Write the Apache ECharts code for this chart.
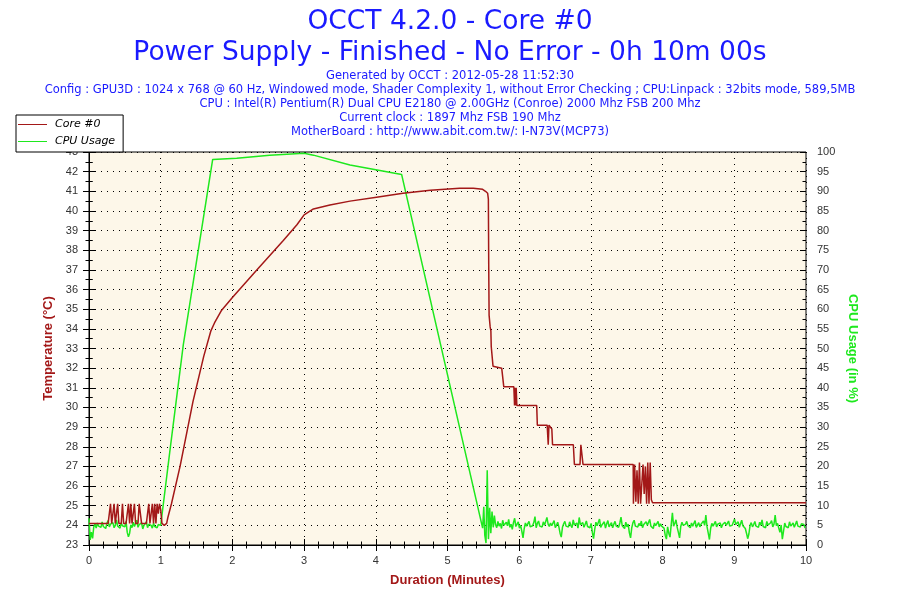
<!DOCTYPE html>
<html>
<head>
<meta charset="utf-8">
<script src="https://cdn.jsdelivr.net/npm/echarts@6/dist/echarts.min.js"></script>
<style>html,body{margin:0;padding:0;background:#fff}#c{width:900px;height:600px}</style>
</head>
<body>
<div id="c"></div>
<script>
// ---- text ----
const titleLines = ['OCCT 4.2.0 - Core #0', 'Power Supply - Finished - No Error - 0h 10m 00s'];
const infoLines = [
  'Generated by OCCT : 2012-05-28 11:52:30',
  'Config : GPU3D : 1024 x 768 @ 60 Hz, Windowed mode, Shader Complexity 1, without Error Checking ; CPU:Linpack : 32bits mode, 589,5MB',
  'CPU : Intel(R) Pentium(R) Dual CPU E2180 @ 2.00GHz (Conroe) 2000 Mhz FSB 200 Mhz',
  'Current clock : 1897 Mhz FSB 190 Mhz',
  'MotherBoard : http://www.abit.com.tw/: I-N73V(MCP73)'
];
const seriesNames = ['Core #0', 'CPU Usage'];
const xName = 'Duration (Minutes)';
const yLeftName = 'Temperature (°C)';
const yRightName = 'CPU Usage (in %)';

// ---- data (time in minutes) ----
const SAMPLE = 1 / 60; // one sample per second

// Core #0 temperature, first minute, one value per second
const tempStart = [
  24.1,24.1,24.1,24.1,24.1,24.1,24.1,24.1,24.1,24.1,
  24.1,24.1,24.1,24.1,24.1,24.1,24.1,24.1,25.1,24.1,
  24.1,25.1,24.1,24.1,25.1,24.1,24.1,24.1,25.1,24.1,
  24.1,24.1,24.1,25.1,24.1,25.1,24.1,24.1,25.1,24.1,
  24.1,24.1,25.1,25.1,24.1,24.1,24.1,24.1,24.1,24.1,
  25.1,24.1,24.1,25.1,24.1,25.1,24.1,25.1,24.6,25.1,
  24.8
];
// Core #0 temperature after the first minute: [minutes, °C]
const tempRest = [
  [1.017,24.1],[1.033,24.0],[1.05,24.0],[1.067,24.0],[1.083,24.1],[1.10,24.4],
  [1.15,25.1],[1.27,27.0],[1.45,30.3],[1.60,32.6],[1.70,33.9],[1.75,34.3],
  [1.85,34.95],[2.0,35.6],[2.34,37.0],[2.71,38.5],[2.9,39.3],[3.0,39.8],
  [3.13,40.1],[3.36,40.3],[3.64,40.5],[4.01,40.7],[4.38,40.9],[4.76,41.05],
  [5.17,41.15],[5.36,41.15],[5.37,41.1],[5.49,41.1],[5.53,41.0],[5.56,40.9],
  [5.57,40.6],[5.575,37.2],[5.58,34.7],[5.595,34.1],[5.605,33.9],[5.61,33.1],
  [5.628,33.0],[5.635,32.1],[5.652,32.0],[5.756,32.0],[5.77,32.1],[5.785,31.05],
  [5.925,31.05],[5.935,30.1],[5.942,31.0],[5.95,30.1],[5.958,31.0],[5.967,30.1],
  [6.244,30.1],[6.253,29.1],[6.39,29.1],[6.405,28.1],[6.415,29.1],[6.44,29.1],
  [6.455,28.9],[6.465,28.1],[6.755,28.1],[6.77,27.1],[6.848,27.1],[6.86,28.1],
  [6.875,28.1],[6.89,27.1],[7.59,27.1],
  [7.593,25.1],[7.61,27.1],[7.627,25.2],[7.643,26.8],[7.66,25.1],[7.677,27.2],
  [7.693,25.1],[7.71,25.1],[7.727,27.1],[7.743,25.6],[7.76,27.0],[7.777,25.1],
  [7.793,27.2],[7.81,25.1],[7.827,27.2],[7.843,25.3],[7.86,25.15],[10,25.15]
];

// CPU usage, first minute, one value per second (%)
const cpuStart = [
  6.8,1.3,3.3,1.7,4.6,5.4,4.3,5.6,4.8,5.2,
  4.5,5.9,4.7,5.1,4.2,5.5,6.2,4.6,5.3,4.9,
  5.7,4.4,5.0,6.4,4.8,5.2,4.3,5.6,4.9,5.4,
  4.6,6.0,3.2,2.1,3.0,5.1,4.4,5.8,4.7,5.0,
  6.3,4.5,5.2,4.8,5.6,4.1,5.0,4.6,5.9,4.4,
  5.3,4.8,5.0,4.3,5.5,4.7,5.1,4.4,5.2,4.8,
  5.0
];
// CPU usage during the load phase: [minutes, %]
const cpuLoad = [
  [1.13,24.2],[1.315,50.9],[1.725,98.1],[2.06,98.4],[2.52,99.2],[3.0,99.7],
  [3.13,99.2],[3.64,96.7],[4.36,94.3],[5.49,4.3],
  [5.506,9.7],[5.52,2.5],[5.537,0.5],[5.554,19.0],[5.571,1.5],[5.588,9.5],
  [5.604,3.0],[5.621,8.5],[5.638,4.5],[5.654,7.5]
];
// CPU usage after the load, one value per second from 5.67 min (%)
const cpuTailStart = 5.67;
const cpuTail = [
  5.2,4.4,6.0,4.8,5.5,4.2,6.3,5.0,4.6,5.8,4.9,6.5,4.5,5.3,4.0,5.7,6.8,4.7,5.1,5.9,
  4.3,5.0,3.5,1.8,4.2,5.6,4.8,5.3,6.0,4.6,5.1,4.9,5.7,7.2,4.4,5.5,6.1,4.8,5.2,4.6,
  5.9,5.0,4.5,7.0,5.3,4.7,5.6,4.9,5.2,6.2,4.4,5.0,5.8,4.6,3.0,2.0,4.5,5.4,6.0,4.8,
  5.2,4.6,5.9,5.0,4.4,6.4,5.1,4.8,5.6,4.3,7.0,5.2,4.9,5.7,4.5,5.3,6.1,4.7,5.0,4.4,
  5.5,3.2,1.6,4.0,5.8,4.9,5.2,6.6,4.5,5.1,4.8,5.9,4.3,5.4,6.2,4.6,5.0,5.7,4.4,5.3,
  6.0,4.8,5.2,4.5,5.6,7.1,4.9,5.0,4.2,5.8,4.6,5.3,3.1,1.8,4.4,5.7,6.3,4.8,5.1,4.6,
  5.5,4.9,6.1,4.4,5.2,4.7,5.9,5.0,4.5,6.5,4.8,5.3,4.2,5.6,4.9,5.1,6.0,4.6,5.4,4.8,
  5.0,4.3,2.5,1.5,4.6,3.0,2.0,5.2,8.2,4.8,5.5,6.4,4.5,3.2,1.8,4.7,5.8,5.0,4.6,5.3,
  6.0,4.9,5.2,4.4,5.6,4.8,5.1,6.2,4.5,5.0,5.7,4.6,5.3,4.9,6.1,5.0,7.6,4.6,3.0,1.4,
  4.2,5.5,4.8,5.1,6.0,4.6,5.3,4.9,5.6,4.4,5.2,4.7,5.8,5.0,4.5,6.1,4.8,5.3,5.0,4.6,
  6.6,5.2,4.8,5.9,4.5,5.4,6.3,4.9,5.1,4.2,3.0,1.6,2.8,5.0,5.7,4.6,5.2,6.0,4.8,5.3,
  4.5,5.8,5.0,6.4,4.7,5.2,4.4,6.0,5.1,4.8,5.6,6.2,4.6,5.3,7.6,4.9,5.5,4.3,3.2,5.1,
  1.5,3.5,5.6,4.7,5.2,4.4,5.9,4.8,5.0,5.6,4.5,5.3,6.1,4.8,5.0,4.6,5.4,4.9,5.2,4.3
];

// ---- build series data ----
const tempData = tempStart.map((v, i) => [i * SAMPLE, v]).concat(tempRest);
const cpuData = cpuStart.map((v, i) => [i * SAMPLE, v])
  .concat(cpuLoad)
  .concat(cpuTail.map((v, i) => [cpuTailStart + i * SAMPLE, v]));

// ---- style ----
const RED = '#a31818';
const GREEN = '#1ee81e';
const BLUE = '#1a1aff';
const AXIS_FONT = 'Liberation Sans, Arial, sans-serif';
const TEXT_FONT = 'DejaVu Sans, Verdana, sans-serif';
const dotted = { color: '#000', width: 1, type: [1, 5] };
const blackLine = { color: '#000', width: 1 };

const titles = [];
titleLines.forEach((t, i) => titles.push({
  text: t, left: 'center', top: 9 + i * 31, padding: 0,
  textStyle: { fontFamily: TEXT_FONT, fontSize: 26.5, fontWeight: 'normal', color: BLUE }
}));
infoLines.forEach((t, i) => titles.push({
  text: t, left: 'center', top: 70 + i * 14.1, padding: 0,
  textStyle: { fontFamily: TEXT_FONT, fontSize: 11.5, fontWeight: 'normal', color: BLUE }
}));

function xAx(inside) {
  return {
    type: 'value', min: 0, max: 10, interval: 1, position: 'bottom', gridIndex: 0,
    axisLine: { show: !inside, lineStyle: blackLine },
    axisTick: { show: true, inside: inside, length: 6, lineStyle: blackLine },
    minorTick: { show: true, splitNumber: 5, length: 3.5, lineStyle: blackLine },
    axisLabel: { show: !inside, margin: 10, color: '#333', fontFamily: AXIS_FONT, fontSize: 11 },
    splitLine: { show: !inside, lineStyle: dotted },
    name: inside ? '' : xName, nameLocation: 'middle', nameGap: 29,
    nameTextStyle: { color: RED, fontFamily: AXIS_FONT, fontSize: 13, fontWeight: 'bold' }
  };
}
function yAx(side, min, max, interval, inside, name, nameColor, rot, gap) {
  return {
    type: 'value', min: min, max: max, interval: interval, position: side, gridIndex: 0,
    axisLine: { show: !inside, lineStyle: blackLine },
    axisTick: { show: true, inside: inside, length: 6, lineStyle: blackLine },
    minorTick: { show: true, splitNumber: 2, length: 3.5, lineStyle: blackLine },
    axisLabel: { show: !inside, margin: 11, color: '#333', fontFamily: AXIS_FONT, fontSize: 11 },
    splitLine: { show: !inside && side === 'left', lineStyle: dotted },
    name: inside ? '' : name, nameLocation: 'middle', nameGap: gap, nameRotate: rot,
    nameTextStyle: { color: nameColor, fontFamily: AXIS_FONT, fontSize: 13, fontWeight: 'bold' }
  };
}

const chart = echarts.init(document.getElementById('c'), null, { renderer: 'canvas' });
chart.setOption({
  animation: false,
  backgroundColor: '#fff',
  title: titles,
  legend: {
    orient: 'vertical', left: 16, top: 115, padding: [4, 8, 5, 2],
    itemGap: 6, itemWidth: 29, itemHeight: 1, icon: 'rect',
    backgroundColor: '#fff', borderColor: '#000', borderWidth: 1, borderRadius: 0,
    data: [
      { name: seriesNames[0], itemStyle: { color: RED } },
      { name: seriesNames[1], itemStyle: { color: GREEN } }
    ],
    textStyle: { fontFamily: TEXT_FONT, fontSize: 11, fontStyle: 'italic', color: '#000', padding: [0, 0, 0, 3] },
    z: 10
  },
  grid: {
    left: 89, right: 94, top: 152, bottom: 55, show: true,
    backgroundColor: '#fdf7e9', borderColor: '#000', borderWidth: 1
  },
  xAxis: [xAx(false), xAx(true)],
  yAxis: [
    yAx('left', 23, 43, 1, false, yLeftName, RED, 90, 30),
    yAx('right', 0, 100, 5, false, yRightName, GREEN, -90, 32),
    yAx('left', 23, 43, 1, true, '', RED, 90, 30),
    yAx('right', 0, 100, 5, true, '', GREEN, -90, 32)
  ],
  series: [
    {
      name: seriesNames[1], type: 'line', xAxisIndex: 0, yAxisIndex: 1,
      data: cpuData, showSymbol: false, symbol: 'none',
      lineStyle: { color: GREEN, width: 1.5 }, itemStyle: { color: GREEN }, z: 2
    },
    {
      name: seriesNames[0], type: 'line', xAxisIndex: 0, yAxisIndex: 0,
      data: tempData, showSymbol: false, symbol: 'none',
      lineStyle: { color: RED, width: 1.5 }, itemStyle: { color: RED }, z: 3
    }
  ]
});
</script>
</body>
</html>
